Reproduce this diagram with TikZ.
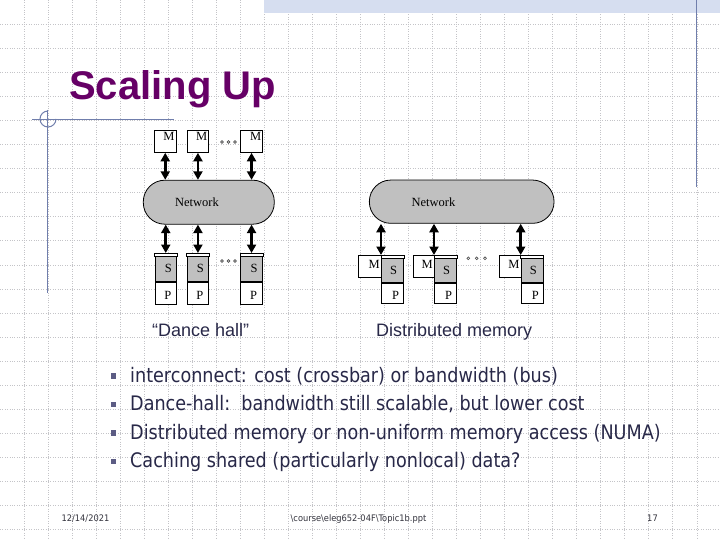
\documentclass[tikz,border=0pt]{standalone}
\usepackage{fontspec}
\setmainfont{Liberation Sans}
\newfontfamily\bulfont[FakeStretch=0.88]{DejaVu Sans}
\newfontfamily\footfont[FakeStretch=0.92]{DejaVu Sans}
\newfontfamily\serfont{Liberation Serif}
\usetikzlibrary{arrows.meta}
\definecolor{titlec}{RGB}{102,0,102}
\definecolor{txtc}{RGB}{40,40,72}
\definecolor{bulc}{RGB}{92,92,132}
\definecolor{decoc}{RGB}{112,126,172}
\definecolor{gridc}{RGB}{196,196,200}
\definecolor{bandc}{RGB}{214,222,240}
\definecolor{netc}{RGB}{192,192,192}
\definecolor{footc}{RGB}{50,50,60}
\begin{document}
\begin{tikzpicture}[x=1pt,y=-1pt,
  gridline/.style={gridc, line width=0.7pt, dash pattern=on 1pt off 1.4pt},
  deco/.style={decoc, line width=1.3pt},
  bx/.style={draw=black, line width=0.8pt, fill=white, inner sep=0pt, anchor=north west},
  sbx/.style={bx, fill=netc},
  net/.style={draw=black, line width=0.8pt, fill=netc, rounded corners=21.5pt, inner sep=0pt},
  ser/.style={font=\serfont\fontsize{12.5}{12.5}\selectfont, text=black, inner sep=0pt},
  dbl/.style={line width=2.8pt, {Triangle[length=8.5pt,width=9pt]}-{Triangle[length=8.5pt,width=9pt]}},
  dotc/.style={draw=black!70, line width=0.6pt},
  captxt/.style={font=\fontsize{18}{18}\selectfont, text=txtc, anchor=base west, inner sep=0pt},
  bultxt/.style={font=\bulfont\fontsize{20}{24}\selectfont, text=txtc, anchor=base west, inner sep=0pt},
  bulsq/.style={fill=bulc, minimum size=5.5pt, inner sep=0pt},
  foot/.style={font=\footfont\fontsize{9}{9}\selectfont, text=footc, anchor=base, inner sep=0pt}
]
\useasboundingbox (0,0) rectangle (720,540);
\fill[white] (0,0) rectangle (720,540);
% grid
\foreach \i in {1,...,29} \draw[gridline] (\i*24.03,0) -- (\i*24.03,540);
\foreach \j in {1,...,22} \draw[gridline] (0,\j*24.08) -- (720,\j*24.08);
% top band and decorations
\fill[bandc] (264,0) rectangle (720,12.7);
\draw[deco] (696.7,0) -- (696.7,187);
\draw[deco] (32,119.3) -- (174,119.3);
\draw[deco] (47.3,110) -- (47.3,293);
\draw[deco, line width=1pt] (48,111) arc[start angle=90, end angle=360, radius=8pt];
% title
\node[font=\bfseries\fontsize{40}{40}\selectfont, text=titlec, anchor=base west, inner sep=0pt] (title) at (69,99.5) {Scaling Up};

% ---------- Dance hall ----------
\node[bx, minimum width=21.7pt, minimum height=22pt] (m1) at (154,130) {};
\node[bx, minimum width=21.7pt, minimum height=22pt] (m2) at (186.7,130) {};
\node[bx, minimum width=22.3pt, minimum height=22pt] (m3) at (240,130) {};
\node[ser, anchor=north east] (m1t) at (174.8,132.5) {M};
\node[ser, anchor=north east] (m2t) at (207.5,132.5) {M};
\node[ser, anchor=north east] (m3t) at (261.5,132.5) {M};
\foreach \x/\n in {222/a,228.5/b,235/c} \draw[dotc] (\x,142) circle[radius=1.4pt];

\node[net, minimum width=131pt, minimum height=44pt] (net1) at (208.8,202.2) {};
\node[ser] (net1t) at (197,202.5) {Network};

\foreach \i/\x/\w in {1/154.5/21.7, 2/186.7/21.7, 3/240/22.3}{
  \node[sbx, minimum width=\w pt, minimum height=28pt] (s\i) at (\x,253) {};
  \draw[fill=white, line width=0.8pt] (s\i.north west) rectangle ([yshift=-3.5pt]s\i.north east);
  \node[bx, minimum width=\w pt, minimum height=22pt] (p\i) at (s\i.south west) {};
  \node[ser] (s\i t) at ([xshift=2.5pt,yshift=-1pt]s\i.center) {S};
  \node[ser] (p\i t) at ([xshift=2pt,yshift=-2pt]p\i.center) {P};
}
\foreach \x in {222,228.5,235} \draw[dotc] (\x,261) circle[radius=1.4pt];

\foreach \i in {1,2,3}{
  \draw[dbl] (m\i.south) -- (m\i.south |- net1.north);
  \draw[dbl] (s\i.north |- net1.south) -- (s\i.north);
}

% ---------- Distributed memory ----------
\node[net, minimum width=184.7pt, minimum height=43.3pt] (net2) at (461.7,201.7) {};
\node[ser] (net2t) at (433.5,202.5) {Network};

\foreach \i/\mx/\sx in {4/358.3/381, 5/412.5/434, 6/499.3/520.7}{
  \node[bx, minimum width=23.5pt, minimum height=21.7pt] (dm\i) at (\mx,255) {};
  \node[sbx, minimum width=22.3pt, minimum height=26.7pt] (s\i) at (\sx,255) {};
  \draw[fill=white, line width=0.8pt] (s\i.north west) rectangle ([yshift=-3pt]s\i.north east);
  \node[bx, minimum width=22.3pt, minimum height=20pt] (p\i) at (s\i.south west) {};
  \node[ser, anchor=east] (dm\i t) at ([xshift=-1pt]s\i.west |- 0,264.5) {M};
  \node[ser] (s\i t) at ([xshift=1pt,yshift=-1.5pt]s\i.center) {S};
  \node[ser] (p\i t) at ([xshift=3pt,yshift=-3pt]p\i.center) {P};
  \draw[dbl] (s\i.north west |- net2.south) -- (s\i.north west);
}
\foreach \x in {468.3,476.7,485} \draw[dotc] (\x,258.3) circle[radius=1.4pt];

% captions
\node[captxt] (cap1) at (152,336) {“Dance hall”};
\node[captxt] (cap2) at (376,336) {Distributed memory};

% bullets
\foreach \y/\t [count=\k] in {382/{interconnect: cost (crossbar) or bandwidth (bus)},
                    410.5/{Dance-hall:\ \ bandwidth still scalable, but lower cost},
                    439/{Distributed memory or non-uniform memory access (NUMA)},
                    467.5/{Caching shared (particularly nonlocal) data?}}{
  \node[bulsq] (b\k) at (113.5,\y-6) {};
  \node[bultxt] (t\k) at (130,\y) {\t};
}

% footer
\node[foot] (f1) at (85.5,521) {12/14/2021};
\node[foot] (f2) at (358.5,521) {\textbackslash course\textbackslash eleg652-04F\textbackslash Topic1b.ppt};
\node[foot] (f3) at (652.5,521) {17};
\end{tikzpicture}
\end{document}
